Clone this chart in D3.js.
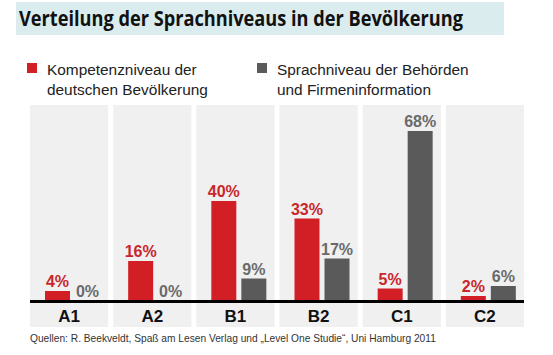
<!DOCTYPE html>
<html><head><meta charset="utf-8">
<script src="https://cdn.jsdelivr.net/npm/d3@7"></script>
<style>body{margin:0;background:#fff}svg{display:block}</style>
</head><body>
<script>
const categories = ["A1","A2","B1","B2","C1","C2"];
const seriesNames = ["Kompetenzniveau der deutschen Bevölkerung","Sprachniveau der Behörden und Firmeninformation"];
const kompetenz = [4,16,40,33,5,2];
const sprachniveau = [0,0,9,17,68,6];
const title = "Verteilung der Sprachniveaus in der Bevölkerung";
const source = "Quellen: R. Beekveldt, Spaß am Lesen Verlag und „Level One Studie“, Uni Hamburg 2011";

const W=553,H=355;
const red="#d21f26", gray="#5a5a5a", redText="#c8262c", grayText="#6a6a6a";
const svg=d3.select("body").append("svg").attr("width",W).attr("height",H);

// title band
svg.append("rect").attr("x",16).attr("y",2).attr("width",488).attr("height",33).attr("fill","#daeced");
svg.append("text").attr("x",19).attr("y",26).text(title)
  .attr("font-family","Open Sans").attr("font-weight",700).attr("font-size",20.5).attr("fill","#111")
  .attr("textLength",444).attr("lengthAdjust","spacingAndGlyphs");

// legend
const leg=[{x:27,c:red,lines:["Kompetenzniveau der","deutschen Bevölkerung"]},{x:257,c:gray,lines:["Sprachniveau der Behörden","und Firmeninformation"]}];
leg.forEach((l,i)=>{
  const g=svg.append("g");
  g.append("rect").attr("x",l.x).attr("y",63).attr("width",10).attr("height",10).attr("fill",l.c);
  const t=g.append("text").attr("font-family","Liberation Sans").attr("font-size",15.4).attr("fill","#222");
  l.lines.forEach((s,j)=>t.append("tspan").attr("x",l.x+20).attr("y",75+j*20).text(s));
});

const axisY=301;
const x=d3.scaleBand().domain(categories).range([30,524]).paddingInner(0.06).paddingOuter(0);
const x1=d3.scaleBand().domain([0,1]).range([15,70]).paddingInner(0.167);
const y=d3.scaleLinear().domain([0,100]).range([axisY,axisY-250]);

const data=categories.map((c,i)=>({c,v:[kompetenz[i],sprachniveau[i]]}));
const panel=svg.selectAll("g.p").data(data).join("g").attr("class","p").attr("transform",d=>`translate(${x(d.c)},0)`);
panel.append("rect").attr("y",105).attr("width",x.bandwidth()).attr("height",222).attr("fill","#f0f0f0");
panel.selectAll("rect.bar").data(d=>d.v).join("rect").attr("class","bar")
  .attr("x",(d,i)=>x1(i)).attr("width",x1.bandwidth()).attr("y",d=>y(d)).attr("height",d=>axisY-y(d))
  .attr("fill",(d,i)=>i?gray:red);
panel.selectAll("text.v").data(d=>d.v).join("text").attr("class","v")
  .attr("x",(d,i)=>x1(i)+x1.bandwidth()/2).attr("y",d=>y(d)-4).attr("text-anchor","middle")
  .attr("font-family","Liberation Sans").attr("font-weight",700).attr("font-size",16)
  .attr("fill",(d,i)=>i?grayText:redText).text(d=>d+"%");
panel.append("text").attr("x",x.bandwidth()/2).attr("y",322).attr("text-anchor","middle")
  .attr("font-family","Liberation Sans").attr("font-weight",700).attr("font-size",17).attr("fill","#111").text(d=>d.c);

svg.append("line").attr("x1",30).attr("x2",524).attr("y1",axisY+0.5).attr("y2",axisY+0.5).attr("stroke","#000").attr("stroke-width",3);

svg.append("text").attr("x",30).attr("y",342).text(source)
  .attr("font-family","Liberation Sans").attr("font-size",10.2).attr("fill","#333");
</script>
</body></html>
